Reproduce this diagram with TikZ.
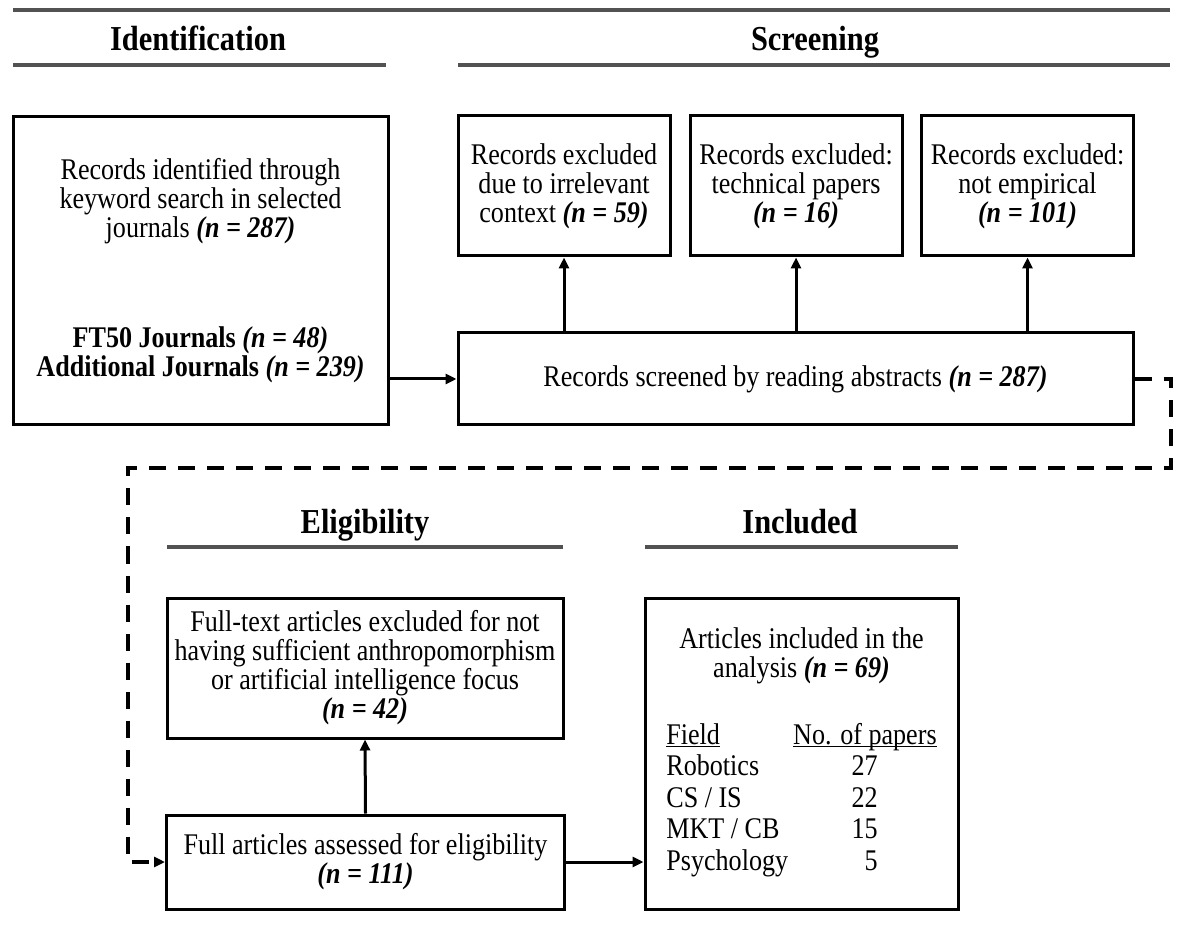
\documentclass[tikz,border=0pt]{standalone}
\usepackage{fontspec}
\setmainfont{Liberation Serif}[FakeStretch=0.87]
\usetikzlibrary{arrows.meta}
% bold italic sample size
\newcommand\nn[1]{\textbf{\textit{(n = #1)}}}
% underline drawn at a fixed depth, ignoring descenders
\newcommand\undl[1]{\setbox0\hbox{#1}\rlap{\rule[-1.6pt]{\wd0}{0.6pt}}\box0}
\begin{document}
\begin{tikzpicture}[x=0.5pt,y=-0.5pt,
  procbox/.style={draw, line width=1.5pt, inner sep=0pt, align=center,
    font=\fontsize{15}{14.5}\selectfont},
  head/.style={font=\bfseries\fontsize{17.5}{20}\selectfont, anchor=base},
  rulebar/.style={line width=2pt, draw=black!68},
  flow/.style={line width=1.5pt, -{Triangle[length=5.5pt,width=5pt]}},
  dashflow/.style={line width=2pt, dash pattern=on 8.5pt off 6pt,
    -{Triangle[length=5.5pt,width=5pt]}},
]
\useasboundingbox (0,0) rectangle (1192,929);

% phase headings and rules
\draw[rulebar] (13,10) -- (1170,10);
\node[head] (hid)   at (198,51)  {Identification};
\node[head] (hscr)  at (815,51)  {Screening};
\draw[rulebar] (13,65) -- (386,65);
\draw[rulebar] (458,65) -- (1170,65);
\node[head] (helig) at (365,533) {Eligibility};
\node[head] (hinc)  at (800,533) {Included};
\draw[rulebar] (167,547) -- (563,547);
\draw[rulebar] (645,547) -- (958,547);

% identification
\node[procbox, minimum width=187.5pt, minimum height=154pt] (ident) at (200.5,271)
  {Records identified through\\ keyword search in selected\\ journals \nn{287}\\[40.5pt]
   \textbf{FT50 Journals} \nn{48}\\ \textbf{Additional Journals} \nn{239}};

% screening
\node[procbox, minimum width=337.5pt, minimum height=46pt] (screen) at (795.5,379)
  {Records screened by reading abstracts \nn{287}};
\node[procbox, minimum width=106pt, minimum height=70pt] (ex1) at (564,186)
  {Records excluded\\ due to irrelevant\\ context \nn{59}};
\node[procbox, minimum width=106pt, minimum height=70pt] (ex2) at (796,186)
  {Records excluded:\\ technical papers\\ \nn{16}};
\node[procbox, minimum width=106pt, minimum height=70pt] (ex3) at (1027.5,186)
  {Records excluded:\\ not empirical\\ \nn{101}};

% eligibility
\node[procbox, minimum width=198pt, minimum height=70pt] (ftx) at (365,668)
  {Full-text articles excluded for not\\ having sufficient anthropomorphism\\
   or artificial intelligence focus\\ \nn{42}};
\node[procbox, minimum width=199pt, minimum height=47pt] (full) at (365.5,862)
  {Full articles assessed for eligibility\\ \nn{111}};

% included
\node[procbox, minimum width=156.5pt, minimum height=155.5pt] (incl) at (801.5,753.5)
  {Articles included in the\\ analysis \nn{69}\\[19pt]
   \renewcommand\arraystretch{1.086}%
   \begin{tabular}[t]{@{}l@{\hspace{2.5pt}}r@{}}
     \undl{Field} & \undl{No. of papers}\\
     Robotics   & 27\kern29.5pt\\
     CS / IS    & 22\kern29.5pt\\
     MKT / CB   & 15\kern29.5pt\\
     Psychology & 5\kern29.5pt
   \end{tabular}};

% connectors
\draw[flow] (ident.east |- screen.west) -- (screen.west);
\draw[flow] (ex1.south |- screen.north) -- (ex1.south);
\draw[flow] (ex2.south |- screen.north) -- (ex2.south);
\draw[flow] (ex3.south |- screen.north) -- (ex3.south);
\coordinate (loopR) at (1171,468);
\coordinate (loopL) at (128,468);
\draw[dashflow] (screen.east) -| (loopR) -- (loopL) |- (full.west);
\draw[flow] (full.north) -- (ftx.south);
\draw[flow] (full.east) -- (incl.west |- full.east);
\end{tikzpicture}
\end{document}
